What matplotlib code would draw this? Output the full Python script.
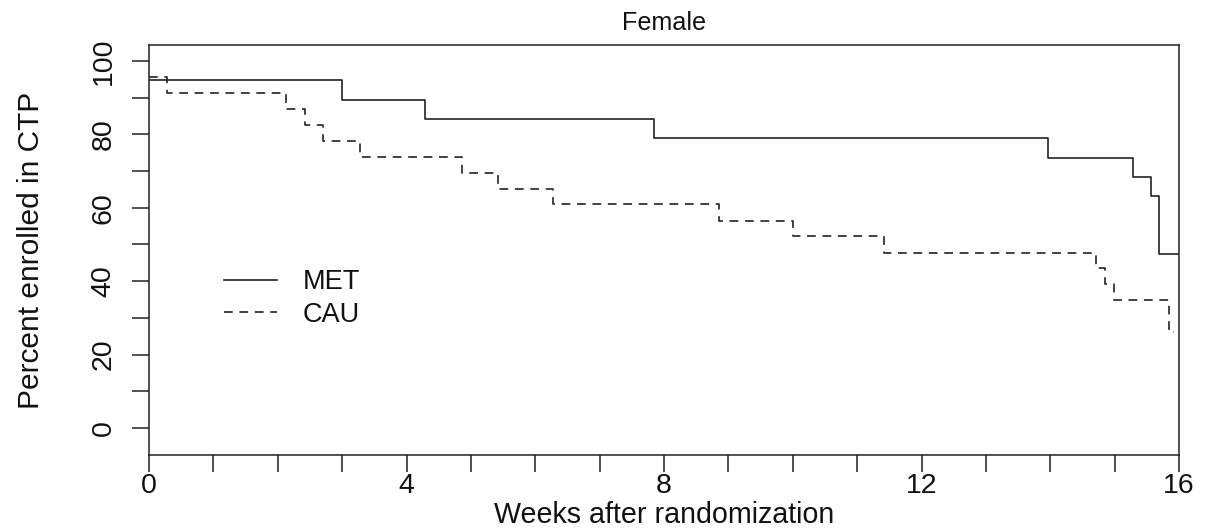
import matplotlib
matplotlib.use("Agg")
import matplotlib.pyplot as plt
import numpy as np

plt.rcParams['font.family'] = ['Liberation Sans', 'DejaVu Sans']

# MET (solid) step curve: times of drops and survival levels
met_times = [0.0, 3.0, 4.29, 7.85, 13.97, 15.28, 15.56, 15.69, 16.0]
met_surv = [94.7, 89.5, 84.2, 78.9, 73.7, 68.4, 63.2, 47.4, 47.4]

# CAU (dashed)
cau_times = [0.0, 0.28, 2.13, 2.43, 2.70, 3.28, 4.86, 5.42, 6.27, 8.85,
             10.0, 11.42, 14.71, 14.85, 14.99, 15.85, 15.92]
cau_surv = [95.7, 91.3, 87.0, 82.6, 78.3, 73.9, 69.6, 65.2, 60.9, 56.5,
            52.2, 47.8, 43.5, 39.1, 34.8, 26.1, 26.1]

series_labels = ["MET", "CAU"]
title = "Female"
xlabel = "Weeks after randomization"
ylabel = "Percent enrolled in CTP"
xtick_labels = [0, 4, 8, 12, 16]
ytick_labels = [0, 20, 40, 60, 80, 100]

FS = 19.5
col = '#222222'
lw = 1.2

fig = plt.figure(figsize=(12.07, 5.31), dpi=100)
ax = fig.add_axes([149/1207, 1-455/531, 1030/1207, 410/531])

ax.step(met_times, met_surv, where='post', color=col, lw=lw, label=series_labels[0])
on, off = 6.3, 4.8
ax.step(cau_times, cau_surv, where='post', color=col, lw=lw,
        linestyle=(0, (on/lw, off/lw)), label=series_labels[1])

ax.set_xlim(0, 16)
ax.set_ylim(-7.36, 104.36)

ax.set_xticks(xtick_labels)
ax.set_xticklabels([str(v) for v in xtick_labels])
ax.set_xticks(np.arange(0, 17, 1), minor=True)
ax.set_yticks(ytick_labels)
ax.set_yticklabels([str(v) for v in ytick_labels])
ax.set_yticks(np.arange(10, 100, 20), minor=True)

for s in ax.spines.values():
    s.set_linewidth(1.1)
    s.set_color(col)

ax.tick_params(which='both', direction='out', length=12.2, width=1.1, color=col,
               labelsize=20.5, labelcolor='#111111')
ax.tick_params(axis='x', which='both', pad=0.5)
ax.tick_params(axis='y', which='both', pad=11)
for lab in ax.get_yticklabels():
    lab.set_rotation(90)
    lab.set_va('center')

ax.set_title(title, fontsize=FS*0.93, pad=11, color='#111111')
ax.set_xlabel(xlabel, fontsize=20.6, labelpad=2, color='#111111')
ax.set_ylabel(ylabel, fontsize=21.5, labelpad=33, color='#111111')

leg = ax.legend(loc='center left', bbox_to_anchor=(0.0728, 0.382), frameon=False,
                fontsize=FS, handlelength=1.95, handletextpad=0.96,
                labelspacing=0.24, borderpad=0, borderaxespad=0)
for t in leg.get_texts():
    t.set_color('#111111')

fig.savefig("out.png", dpi=100)
